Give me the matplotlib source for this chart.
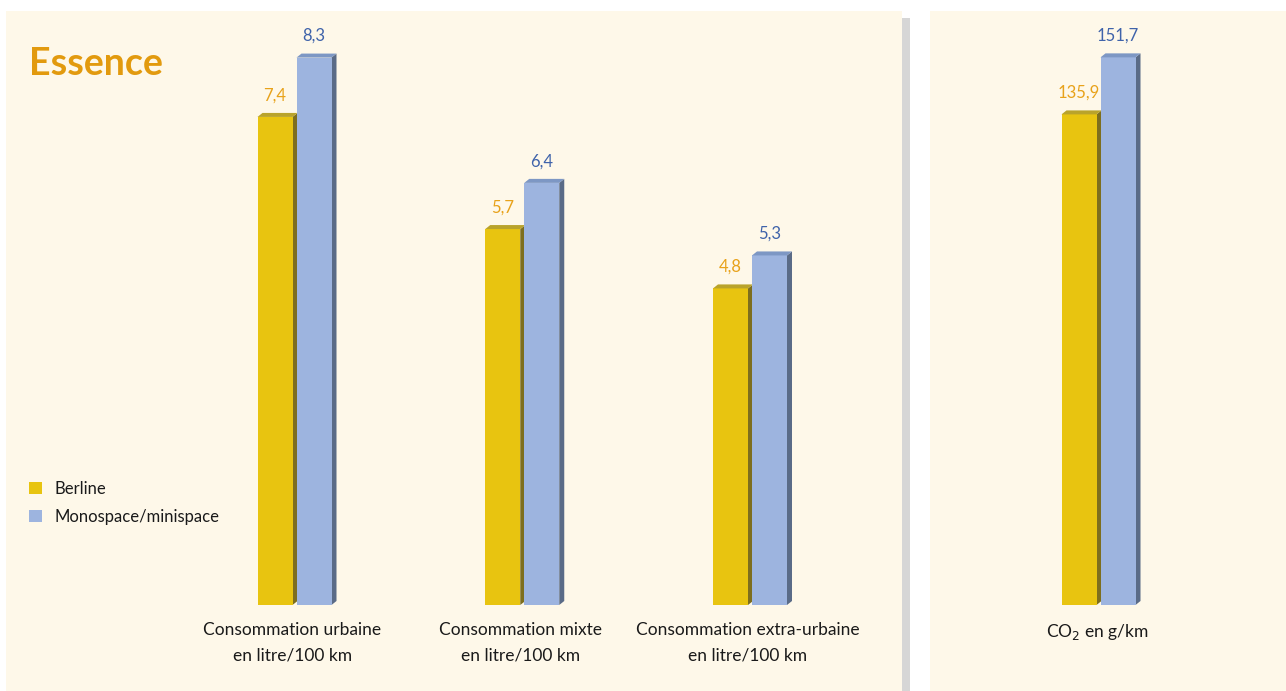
import matplotlib
matplotlib.use("Agg")
import matplotlib.pyplot as plt
from matplotlib.patches import Rectangle, Polygon, Patch

plt.rcParams['font.family'] = ['Lato', 'DejaVu Sans']

# Data
categories = ["Consommation urbaine\nen litre/100 km",
              "Consommation mixte\nen litre/100 km",
              "Consommation extra-urbaine\nen litre/100 km"]
berline = [7.4, 5.7, 4.8]
monospace = [8.3, 6.4, 5.3]
co2_category = ["CO$_2$ en g/km"]
co2_berline = [135.9]
co2_monospace = [151.7]
series_names = ["Berline", "Monospace/minispace"]

# Colours
CREAM = "#FEF8E9"
YEL_FRONT, YEL_SIDE, YEL_TOP = "#E8C410", "#7D6E1E", "#B9A32B"
BLU_FRONT, BLU_SIDE, BLU_TOP = "#9DB4DF", "#5A6B87", "#7D97C4"
YEL_TEXT, BLU_TEXT = "#E8A21A", "#3F63AA"

W, H = 1286, 691
fig = plt.figure(figsize=(W / 100, H / 100), dpi=100)
fig.patch.set_facecolor("white")


def px_rect(x0, y0, x1, y1, color):
    """Background panel given in pixel coordinates measured from the top."""
    fig.add_artist(Rectangle((x0 / W, 1 - y1 / H), (x1 - x0) / W, (y1 - y0) / H,
                             transform=fig.transFigure, facecolor=color,
                             edgecolor="none", zorder=0))


px_rect(6, 11, 902, H, CREAM)
px_rect(902, 18, 910, H, "#D6D6D6")
px_rect(930, 11, W, H, CREAM)

GROUP_PX = 227.75
BASE_Y = 605
AX_H = 593.6
BAR_W = 35 / GROUP_PX
OFF = 19.5 / GROUP_PX
DX_PX, DY_PX = 5, 4


def make_axes(left_px, ngroups, ymax):
    width_px = GROUP_PX * ngroups
    ax = fig.add_axes([left_px / W, (H - BASE_Y) / H, width_px / W, AX_H / H])
    ax.set_xlim(-0.5, ngroups - 0.5)
    ax.set_ylim(0, ymax)
    ax.set_facecolor("none")
    for s in ax.spines.values():
        s.set_visible(False)
    ax.set_yticks([])
    ax.tick_params(axis="x", length=0, pad=12, labelsize=12.5, colors="#1a1a1a")
    return ax


def bars_3d(ax, xs, vals, front, side, top, txt_color, fmt):
    x_per_px = 1 / GROUP_PX
    y_per_px = ax.get_ylim()[1] / AX_H
    dx, dy = DX_PX * x_per_px, DY_PX * y_per_px
    ax.bar(xs, vals, width=BAR_W, color=front, zorder=3, linewidth=0)
    for x, v in zip(xs, vals):
        x0, x1 = x - BAR_W / 2, x + BAR_W / 2
        ax.add_patch(Polygon([(x1, 0), (x1 + dx, dy), (x1 + dx, v + dy), (x1, v)],
                             closed=True, facecolor=side, edgecolor="none",
                             zorder=2, clip_on=False))
        ax.add_patch(Polygon([(x0, v), (x1, v), (x1 + dx, v + dy), (x0 + dx, v + dy)],
                             closed=True, facecolor=top, edgecolor="none",
                             zorder=3, clip_on=False))
        ax.annotate(fmt(v), (x, v + dy), xytext=(0, 7),
                    textcoords="offset points", ha="center", va="bottom",
                    color=txt_color, fontsize=12, zorder=4)


def fr(v):
    return f"{v:.1f}".replace(".", ",")


# Fuel consumption panel
ax1 = make_axes(292.5 - GROUP_PX / 2, 3, 9.0)
idx = list(range(len(categories)))
bars_3d(ax1, [i - OFF + 2 / GROUP_PX for i in idx], berline,
        YEL_FRONT, YEL_SIDE, YEL_TOP, YEL_TEXT, fr)
bars_3d(ax1, [i + OFF + 2 / GROUP_PX for i in idx], monospace,
        BLU_FRONT, BLU_SIDE, BLU_TOP, BLU_TEXT, fr)
ax1.set_xticks(idx)
ax1.set_xticklabels(categories, linespacing=1.75)

# CO2 panel
ax2 = make_axes(1097 - GROUP_PX / 2, 1, AX_H / 3.61)
bars_3d(ax2, [-OFF + 1.5 / GROUP_PX], co2_berline,
        YEL_FRONT, YEL_SIDE, YEL_TOP, YEL_TEXT, fr)
bars_3d(ax2, [OFF + 1.5 / GROUP_PX], co2_monospace,
        BLU_FRONT, BLU_SIDE, BLU_TOP, BLU_TEXT, fr)
ax2.set_xticks([0])
ax2.set_xticklabels(co2_category)

# Title
fig.text(29 / W, 1 - 64 / H, "Essence", fontsize=27, fontweight="bold",
         color="#E29A0E", ha="left", va="center")

# Legend
handles = [Patch(facecolor=YEL_FRONT, edgecolor="none"),
           Patch(facecolor=BLU_FRONT, edgecolor="none")]
fig.legend(handles, series_names, loc="upper left",
           bbox_to_anchor=(14 / W, 1 - 466 / H), frameon=False,
           fontsize=12, handlelength=0.75, handleheight=0.75,
           handletextpad=0.75, labelspacing=0.72, labelcolor="#1a1a1a")

fig.savefig("out.png", dpi=100, facecolor=fig.get_facecolor())
